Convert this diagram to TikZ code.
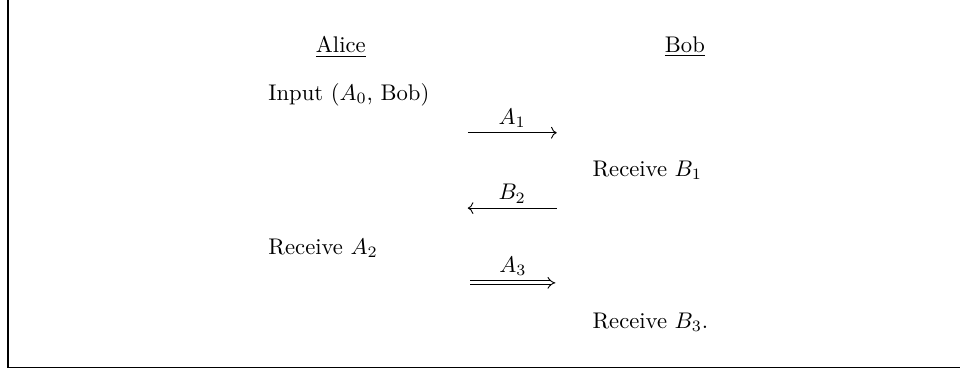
\documentclass[tikz,border=0pt]{standalone}
\usepackage{amsmath}
\usetikzlibrary{arrows.meta,positioning}

\begin{document}
\begin{tikzpicture}[>=To,party/.style={inner sep=1pt},step text/.style={anchor=west,inner sep=0pt},msg/.style={draw,line width=0.4pt,->},msgback/.style={draw,line width=0.4pt,<-},msgdouble/.style={draw,line width=0.4pt,double,double distance=1.4pt,-Implies},lbl/.style={above,inner sep=2pt}]
\useasboundingbox (0,0) rectangle (14.9,-5.74);
\draw[line width=0.6pt] (0.124,0) -- (0.124,-5.70) -- (14.9,-5.70);
% parties
\node[party] (alice) at (5.29,-0.73) {\underline{Alice}};
\node[party] (bob) at (10.63,-0.73) {\underline{Bob}};
% steps
\node[step text] (input) at (4.16,-1.47) {Input ($A_0$, Bob)};
\node[step text] (recb1) at (9.19,-2.64) {Receive $B_1$};
\node[step text] (reca2) at (4.16,-3.85) {Receive $A_2$};
\node[step text] (recb3) at (9.19,-5.00) {Receive $B_3$.};
% messages
\coordinate (m1l) at (7.26,-2.06);
\coordinate (m1r) at (8.64,-2.06);
\coordinate (m2l) at (7.26,-3.23);
\coordinate (m2r) at (8.64,-3.23);
\coordinate (m3l) at (7.30,-4.39);
\coordinate (m3r) at (8.62,-4.39);
\draw[msg] (m1l) -- node[lbl] {$A_1$} (m1r);
\draw[msgback] (m2l) -- node[lbl] {$B_2$} (m2r);
\draw[msgdouble] (m3l) -- node[lbl,yshift=1pt] {$A_3$} (m3r);
\end{tikzpicture}
\end{document}
